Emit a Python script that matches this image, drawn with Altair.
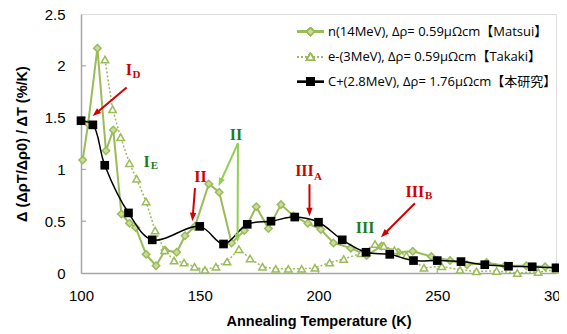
import math
import altair as alt
import pandas as pd

# ---------------- data ----------------
n_T = [100.7, 103, 106.9, 110.5, 113.6, 117, 120.4, 123, 127.4, 131.6, 135.4, 140.3, 143.8, 148,
       153.8, 158.2, 163.4, 168.8, 173.8, 178.9, 184.2, 189.5, 195.5, 201, 206.3, 213.6, 220.3,
       226.6, 233.6, 239.7, 247.5, 255.4, 262.5, 270.8, 278.5, 287.5, 295.4, 300]
n_v = [1.09, 1.44, 2.17, 1.18, 1.38, 0.57, 0.48, 0.44, 0.18, 0.07, 0.22, 0.20, 0.36, 0.45,
       0.86, 0.78, 0.29, 0.41, 0.64, 0.43, 0.66, 0.55, 0.48, 0.42, 0.29, 0.24, 0.17,
       0.26, 0.20, 0.21, 0.16, 0.12, 0.08, 0.10, 0.07, 0.07, 0.06, 0.05]

e_T = [110.1, 113.3, 116.7, 120.4, 123.4, 127.4, 131.2, 135.2, 139.2, 143.4, 147.8, 152.2, 156.8,
       161.5, 166.5, 171.2, 176.4, 182, 187.3, 192.9, 198.5, 204.7, 210.6, 217.9, 223.8, 227.5,
       232, 237, 244.4, 251.9, 259.6, 266.5, 275, 283.7, 292.5, 300]
e_v = [2.06, 1.58, 1.31, 1.06, 0.91, 0.69, 0.41, 0.22, 0.12, 0.10, 0.06, 0.03, 0.06,
       0.11, 0.23, 0.14, 0.06, 0.04, 0.04, 0.04, 0.05, 0.10, 0.135, 0.19, 0.28, 0.26,
       0.22, 0.17, 0.05, 0.065, 0.03, 0.016, 0.02, 0.0, 0.01, 0.03]

c_T = [100, 105, 110, 120, 130, 150, 160, 170, 180, 190, 200, 210, 220, 230, 240, 250, 260, 270, 280, 290, 300]
c_v = [1.47, 1.43, 1.04, 0.58, 0.32, 0.45, 0.28, 0.47, 0.50, 0.54, 0.49, 0.32, 0.20, 0.18, 0.12, 0.12,
       0.11, 0.08, 0.065, 0.06, 0.05]

legend_labels = ["n(14MeV), Δρ= 0.59μΩcm【Matsui】",
                 "e-(3MeV), Δρ= 0.59μΩcm【Takaki】",
                 "C+(2.8MeV), Δρ= 1.76μΩcm【本研究】"]

x_ticks = [150, 200, 250]
y_ticks = [0.5, 1.0, 1.5, 2.0]

# annotations (data coordinates)
ann_text = ["I", "D", "I", "E", "II", "II", "III", "A", "III", "III", "B"]
ann_x = [120.2, 123.4, 127.6, 130.9, 150.3, 165.3, 194.1, 199.8, 219.6, 240.6, 246.4]
ann_y = [1.955, 1.915, 1.075, 1.035, 0.93, 1.335, 0.98, 0.93, 0.435, 0.785, 0.74]
ann_size = [16, 11, 16, 11, 16, 16, 16, 11, 16, 16, 11]
RED = "#d00000"
DKGREEN = "#1e7b1e"
LTGREEN = "#92d050"
ann_color = [RED, RED, DKGREEN, DKGREEN, RED, DKGREEN, RED, RED, DKGREEN, RED, RED]

arr_x1 = [119.2, 148.0, 166.1, 166.1, 196.2, 240.6]
arr_y1 = [1.79, 0.82, 1.253, 1.253, 0.857, 0.673]
arr_x2 = [104.9, 146.9, 157.9, 165.9, 196.2, 226.3]
arr_y2 = [1.515, 0.50, 0.838, 0.297, 0.548, 0.345]
arr_color = [RED, RED, LTGREEN, LTGREEN, RED, RED]

W, H = 475, 259
XMIN, XMAX, YMIN, YMAX = 100, 300, 0, 2.5
sx = W / (XMAX - XMIN)
sy = H / (YMAX - YMIN)

rows = []
for x1, y1, x2, y2, c in zip(arr_x1, arr_y1, arr_x2, arr_y2, arr_color):
    dx = (x2 - x1) * sx
    dy = -(y2 - y1) * sy
    L = math.hypot(dx, dy)
    ang = math.degrees(math.atan2(dx, -dy)) % 360
    back = 6.0
    ex = x2 - (dx / L) * back / sx
    ey = y2 + (dy / L) * back / sy
    rows.append(dict(x1=x1, y1=y1, x2=ex, y2=ey, tx=x2, ty=y2, angle=ang, color=c))
arrows = pd.DataFrame(rows)

n_df = pd.DataFrame({"T": n_T, "v": n_v})
e_df = pd.DataFrame({"T": e_T, "v": e_v})
c_df = pd.DataFrame({"T": c_T, "v": c_v})
ann_df = pd.DataFrame({"x": ann_x, "y": ann_y, "t": ann_text, "s": ann_size, "c": ann_color})

GREEN = "#9bbb59"
FONT = "Open Sans, 'Noto Sans CJK JP', sans-serif"

xs = alt.Scale(domain=[XMIN, XMAX], nice=False)
ys = alt.Scale(domain=[YMIN, YMAX], nice=False)

X = alt.X("T:Q", scale=xs,
          axis=alt.Axis(title="Annealing Temperature (K)", values=[100, 150, 200, 250, 300],
                        tickSize=0, labelPadding=15, titlePadding=11, grid=False, format="d",
                        labelFontSize=15, titleFontSize=14.5, titleFontWeight="bold",
                        labelColor="black", titleColor="black", domainColor="#a6a6a6",
                        domainWidth=1.5, labelFlush=False))
Y = alt.Y("v:Q", scale=ys,
          axis=alt.Axis(title="Δ (ΔρT/Δρ0) / ΔT (%/K)", values=[0, 0.5, 1, 1.5, 2, 2.5],
                        tickSize=0, labelPadding=16, titlePadding=15, grid=False, format="~r",
                        labelFontSize=15, titleFontSize=14.5, titleFontWeight="bold",
                        labelColor="black", titleColor="black", domainColor="#a6a6a6",
                        domainWidth=1.5, labelFlush=False))

n_line = alt.Chart(n_df).mark_line(color=GREEN, strokeWidth=2).encode(x=X, y=Y)
n_pts = alt.Chart(n_df).mark_point(shape="diamond", filled=True, fill="#c9dc9f", stroke=GREEN,
                                   strokeWidth=1.5, size=55, opacity=1).encode(x="T:Q", y="v:Q")
e_line = alt.Chart(e_df).mark_line(color=GREEN, strokeWidth=1.5, strokeDash=[2, 2]).encode(x="T:Q", y="v:Q")
e_pts = alt.Chart(e_df).mark_point(shape="triangle-up", filled=True, fill="white", stroke=GREEN,
                                   strokeWidth=1.5, size=55, opacity=1).encode(x="T:Q", y="v:Q")
c_line = alt.Chart(c_df).mark_line(color="black", strokeWidth=1.5, interpolate="catmull-rom").encode(x="T:Q", y="v:Q")
c_pts = alt.Chart(c_df).mark_square(color="black", size=75, opacity=1).encode(x="T:Q", y="v:Q")

xt = alt.Chart(pd.DataFrame({"T": x_ticks})).mark_rule(color="#a6a6a6", strokeWidth=1.2).encode(
    x="T:Q", y=alt.value(H), y2=alt.value(H - 5))
yt = alt.Chart(pd.DataFrame({"v": y_ticks})).mark_rule(color="#a6a6a6", strokeWidth=1.2).encode(
    y="v:Q", x=alt.value(0), x2=alt.value(5))

arr_rule = alt.Chart(arrows).mark_rule(strokeWidth=2).encode(
    x="x1:Q", y="y1:Q", x2="x2:Q", y2="y2:Q", color=alt.Color("color:N", scale=None))
arr_head = alt.Chart(arrows).mark_point(shape="M0,0L-0.75,2L0.75,2Z", filled=True, size=70, opacity=1).encode(
    x="tx:Q", y="ty:Q", angle=alt.Angle("angle:Q", scale=None),
    color=alt.Color("color:N", scale=None))

ann = alt.Chart(ann_df).mark_text(font="Liberation Serif", fontWeight="bold").encode(
    x="x:Q", y="y:Q", text="t:N", size=alt.Size("s:Q", scale=None), color=alt.Color("c:N", scale=None))

# legend (manual)
leg = []
ly = [17.7, 42.7, 67.7]
leg.append(alt.Chart(n_df).mark_rule(color=GREEN, strokeWidth=2).encode(
    x=alt.value(216), x2=alt.value(243), y=alt.value(ly[0])))
leg.append(alt.Chart(n_df).mark_point(shape="diamond", filled=True, fill="#c9dc9f", stroke=GREEN,
                                      strokeWidth=1.5, size=55, opacity=1).encode(
    x=alt.value(229.5), y=alt.value(ly[0])))
leg.append(alt.Chart(e_df).mark_rule(color=GREEN, strokeWidth=1.5, strokeDash=[2, 2]).encode(
    x=alt.value(216), x2=alt.value(243), y=alt.value(ly[1])))
leg.append(alt.Chart(e_df).mark_point(shape="triangle-up", filled=True, fill="white", stroke=GREEN,
                                      strokeWidth=1.5, size=55, opacity=1).encode(
    x=alt.value(229.5), y=alt.value(ly[1])))
leg.append(alt.Chart(c_df).mark_rule(color="black", strokeWidth=1.5).encode(
    x=alt.value(216), x2=alt.value(243), y=alt.value(ly[2])))
leg.append(alt.Chart(c_df).mark_square(color="black", size=75, opacity=1).encode(
    x=alt.value(229.5), y=alt.value(ly[2])))
for i, lab in enumerate(legend_labels):
    leg.append(alt.Chart(pd.DataFrame({"t": [lab]})).mark_text(
        align="left", baseline="middle", font=FONT, fontSize=13, color="black").encode(
        x=alt.value(247), y=alt.value(ly[i]), text="t:N"))

chart = alt.layer(n_line, xt, yt, n_pts, e_line, e_pts, c_line, c_pts, arr_rule, arr_head, ann, *leg).properties(
    width=W, height=H,
    padding={"left": 73, "top": 6, "right": 3, "bottom": 58},
    autosize=alt.AutoSizeParams(type="none"),
).configure_view(stroke="#bfbfbf", strokeWidth=1.5).configure_axis(
    labelFont=FONT, titleFont=FONT).configure(background="white")

chart.save("out.html", embed_options={"renderer": "svg", "actions": False})
